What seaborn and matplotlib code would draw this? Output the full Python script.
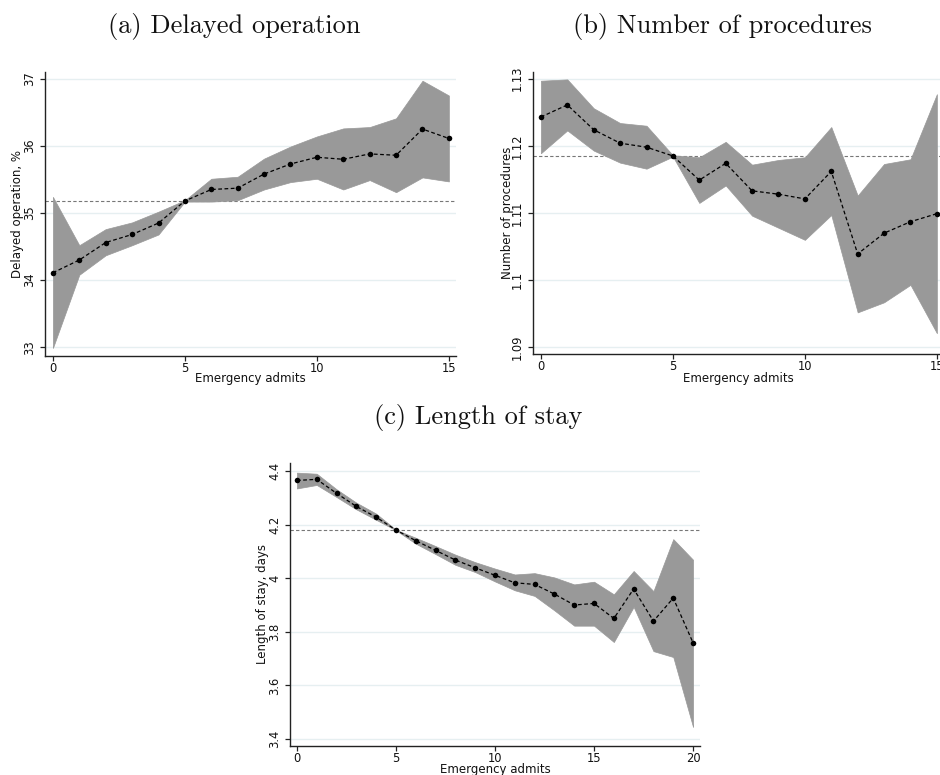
import numpy as np
import pandas as pd
import matplotlib
matplotlib.use("Agg")
import matplotlib.pyplot as plt
import seaborn as sns

# (a) Delayed operation, %
delay_x = list(range(16))
delay_est = [34.11, 34.30, 34.56, 34.68, 34.85, 35.18, 35.35, 35.37, 35.58, 35.73,
             35.83, 35.80, 35.88, 35.86, 36.25, 36.11]
delay_lo = [32.99, 34.08, 34.37, 34.52, 34.68, 35.17, 35.17, 35.19, 35.35, 35.46,
            35.51, 35.35, 35.49, 35.31, 35.53, 35.47]
delay_hi = [35.24, 34.52, 34.76, 34.86, 35.02, 35.19, 35.51, 35.54, 35.81, 35.99,
            36.14, 36.26, 36.28, 36.41, 36.97, 36.75]
delay_ref = 35.18
delay_yticks = [33, 34, 35, 36, 37]
delay_yticklabels = ["33", "34", "35", "36", "37"]

# (b) Number of procedures
proc_x = list(range(16))
proc_est = [1.1243, 1.1261, 1.1224, 1.1204, 1.1198, 1.1185, 1.1149, 1.1174, 1.1133, 1.1128,
            1.1121, 1.1162, 1.1039, 1.1070, 1.1087, 1.1099]
proc_lo = [1.1189, 1.1223, 1.1193, 1.1175, 1.1166, 1.1184, 1.1115, 1.1141, 1.1096, 1.1078,
           1.1060, 1.1097, 1.0952, 1.0967, 1.0993, 1.0921]
proc_hi = [1.1297, 1.1299, 1.1256, 1.1234, 1.1230, 1.1186, 1.1183, 1.1206, 1.1172, 1.1179,
           1.1183, 1.1228, 1.1126, 1.1173, 1.1180, 1.1277]
proc_ref = 1.1185
proc_yticks = [1.09, 1.10, 1.11, 1.12, 1.13]
proc_yticklabels = ["1.09", "1.1", "1.11", "1.12", "1.13"]

# (c) Length of stay, days
los_x = list(range(21))
los_est = [4.365, 4.369, 4.317, 4.268, 4.228, 4.180, 4.140, 4.104, 4.068, 4.039,
           4.011, 3.983, 3.977, 3.941, 3.900, 3.906, 3.850, 3.960, 3.840, 3.926, 3.759]
los_lo = [4.335, 4.348, 4.303, 4.257, 4.218, 4.179, 4.129, 4.090, 4.050, 4.023,
          3.988, 3.955, 3.934, 3.880, 3.823, 3.823, 3.762, 3.893, 3.728, 3.706, 3.445]
los_hi = [4.394, 4.390, 4.332, 4.282, 4.241, 4.181, 4.151, 4.120, 4.088, 4.060,
          4.036, 4.014, 4.019, 4.003, 3.977, 3.987, 3.940, 4.027, 3.952, 4.146, 4.069]
los_ref = 4.180
los_yticks = [3.4, 3.6, 3.8, 4.0, 4.2, 4.4]
los_yticklabels = ["3.4", "3.6", "3.8", "4", "4.2", "4.4"]

titles = ["(a) Delayed operation", "(b) Number of procedures", "(c) Length of stay"]
ylabels = ["Delayed operation, %", "Number of procedures", "Length of stay, days"]
xlabel = "Emergency admits"

sns.set_theme(style="white")
plt.rcParams["font.family"] = ["DejaVu Sans"]

W, H = 940, 775
fig = plt.figure(figsize=(W / 100, H / 100), dpi=100)


def px_axes(left, top, right, bottom):
    return fig.add_axes([left / W, 1 - bottom / H, (right - left) / W, (bottom - top) / H])


def draw_panel(ax, x, est, lo, hi, ref, yticks, yticklabels, xticks, ylabel,
               xlim, ylim, ylab_x, xlab_y):
    ax.set_axisbelow(True)
    ax.yaxis.grid(True, color="#E6EFF1", lw=1.0)
    ax.xaxis.grid(False)
    ax.axhline(ref, color="#777777", lw=0.8, ls=(0, (3, 2)), zorder=1.5)
    ax.fill_between(x, lo, hi, color="#999999", edgecolor="#999999", lw=0.5, zorder=2)
    df = pd.DataFrame({"x": x, "y": est})
    sns.lineplot(data=df, x="x", y="y", ax=ax, color="black", lw=0.9,
                 linestyle=(0, (3, 2)), marker="o", markersize=4,
                 markeredgewidth=0, zorder=4)
    ax.set_xlim(*xlim)
    ax.set_ylim(*ylim)
    ax.set_xticks(xticks)
    ax.set_xticklabels([str(t) for t in xticks])
    ax.set_yticks(yticks)
    ax.set_yticklabels(yticklabels, rotation=90, va="center")
    for side in ("top", "right"):
        ax.spines[side].set_visible(False)
    for side in ("left", "bottom"):
        ax.spines[side].set_color("#222222")
        ax.spines[side].set_linewidth(1.0)
    ax.tick_params(axis="both", which="major", direction="out", length=3.5, width=0.9,
                   color="#222222", labelsize=8.3, labelcolor="#111111",
                   left=True, bottom=True)
    ax.tick_params(axis="x", pad=1)
    ax.tick_params(axis="y", pad=3)
    ax.set_ylabel(ylabel, fontsize=8.5, color="#111111", va="center")
    ax.set_xlabel(xlabel, fontsize=8.5, color="#111111", va="center")
    ax.yaxis.set_label_coords(ylab_x, 0.5)
    ax.xaxis.set_label_coords(0.5, xlab_y)


ax_a = px_axes(45, 72, 456, 356)
draw_panel(ax_a, delay_x, delay_est, delay_lo, delay_hi, delay_ref,
           delay_yticks, delay_yticklabels, [0, 5, 10, 15], ylabels[0],
           (-0.30, 15.27), (32.87, 37.10), -0.066, -0.080)

ax_b = px_axes(533, 72, 944, 354)
draw_panel(ax_b, proc_x, proc_est, proc_lo, proc_hi, proc_ref,
           proc_yticks, proc_yticklabels, [0, 5, 10, 15], ylabels[1],
           (-0.30, 15.27), (1.0890, 1.1310), -0.061, -0.087)

ax_c = px_axes(290, 463, 700, 746)
draw_panel(ax_c, los_x, los_est, los_lo, los_hi, los_ref,
           los_yticks, los_yticklabels, [0, 5, 10, 15, 20], ylabels[2],
           (-0.35, 20.35), (3.374, 4.43), -0.068, -0.082)

title_kw = dict(fontsize=19, family="cmr10", ha="center", va="center", color="#111111")
fig.text(234 / W, 1 - 27 / H, titles[0], **title_kw)
fig.text(722 / W, 1 - 27 / H, titles[1], **title_kw)
fig.text(478 / W, 1 - 418 / H, titles[2], **title_kw)

fig.savefig("out.png", dpi=100)
